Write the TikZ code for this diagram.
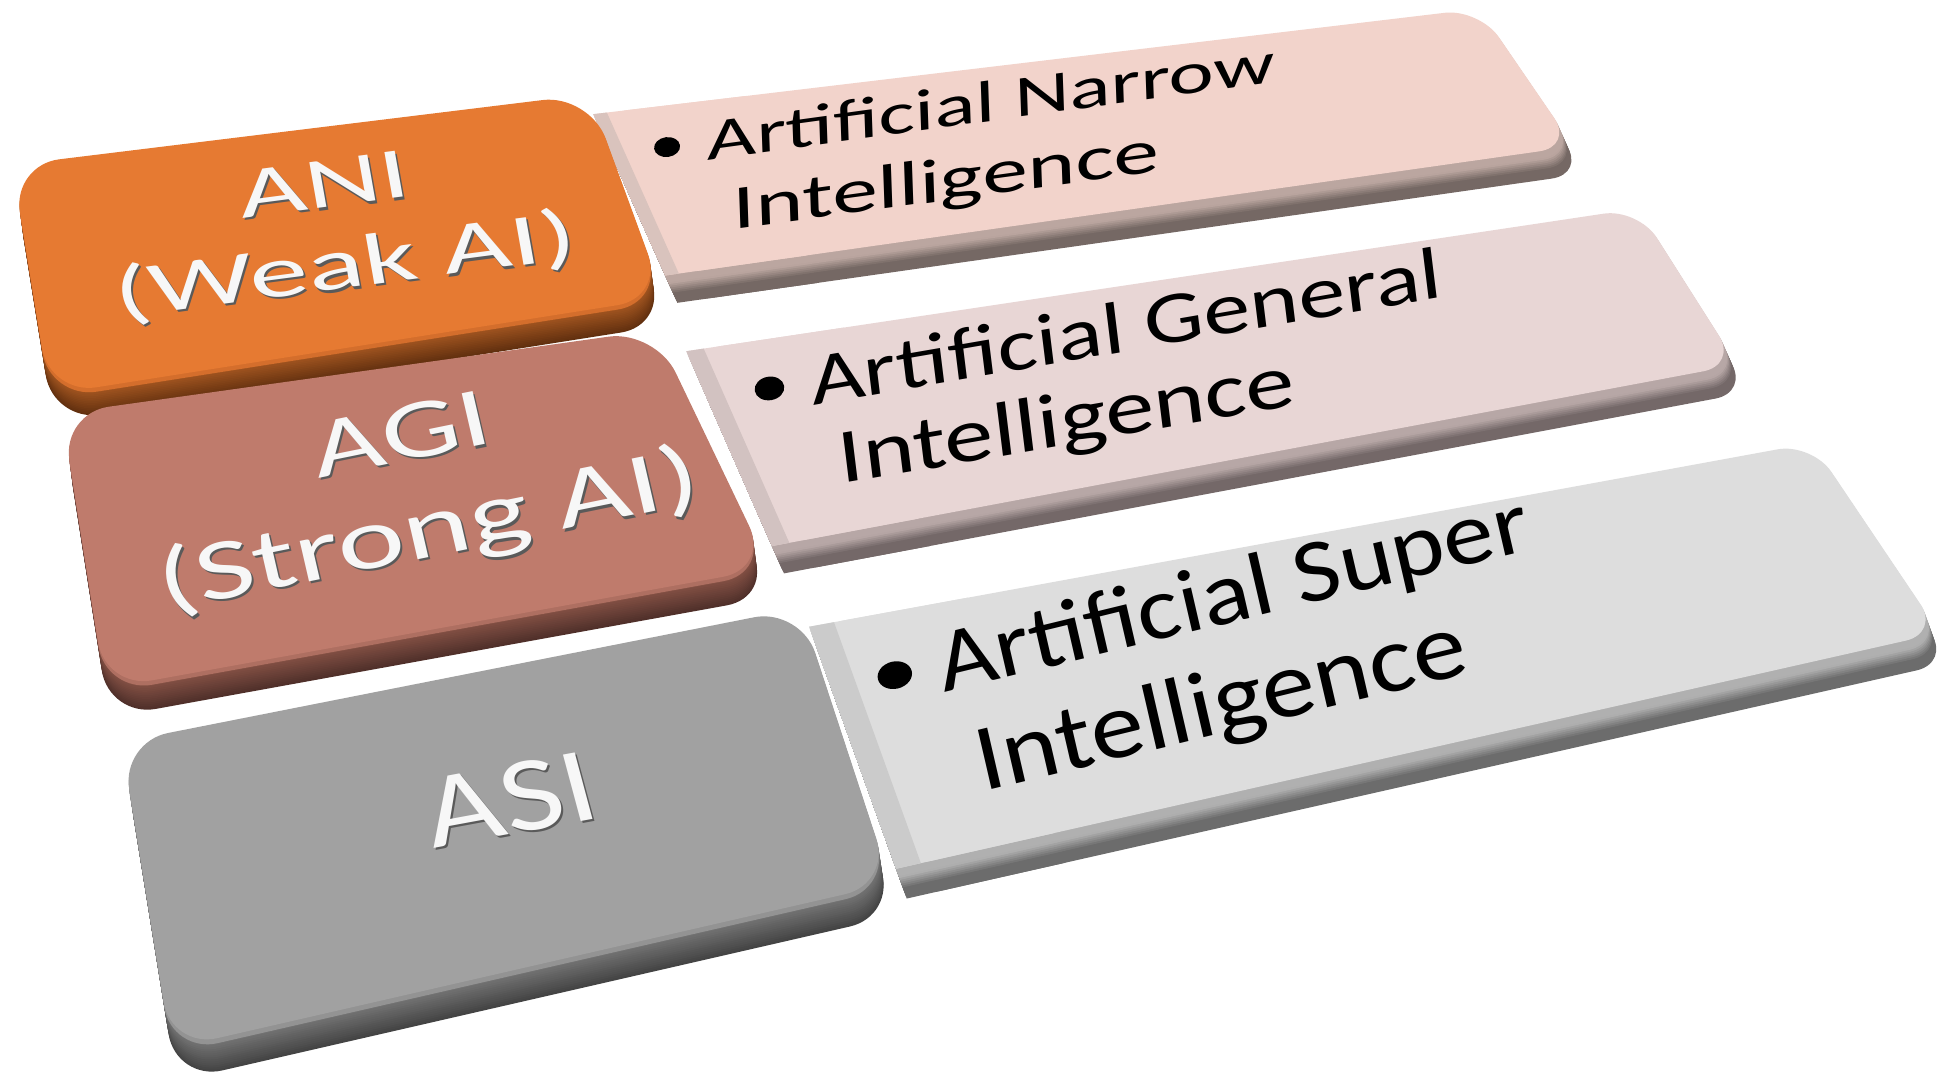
\documentclass[tikz,border=0pt]{standalone}
\usepackage{fontspec}
\setmainfont{Carlito}
\definecolor{anitop}{HTML}{E67A32}
\definecolor{anirim}{HTML}{D46E2C}
\definecolor{animid}{HTML}{AC5B23}
\definecolor{anidark}{HTML}{62300F}
\definecolor{agitop}{HTML}{BF7B6C}
\definecolor{agirim}{HTML}{AE6F61}
\definecolor{agimid}{HTML}{8C5649}
\definecolor{agidark}{HTML}{50302A}
\definecolor{asitop}{HTML}{A1A1A1}
\definecolor{asirim}{HTML}{939393}
\definecolor{asimid}{HTML}{7C7C7C}
\definecolor{asidark}{HTML}{444444}
\definecolor{anidtop}{HTML}{F2D3CB}
\definecolor{anidbev}{HTML}{BBA6A0}
\definecolor{aniddark}{HTML}{756864}
\definecolor{anidstrip}{HTML}{D9C3BD}
\definecolor{agidtop}{HTML}{E8D6D5}
\definecolor{agidbev}{HTML}{B7A7A6}
\definecolor{agiddark}{HTML}{746868}
\definecolor{agidstrip}{HTML}{D2C2C1}
\definecolor{asidtop}{HTML}{DDDDDD}
\definecolor{asidbev}{HTML}{B0B0B0}
\definecolor{asiddark}{HTML}{6C6C6C}
\definecolor{asidstrip}{HTML}{CBCBCB}
\definecolor{txtwhite}{HTML}{F7F7F7}
\definecolor{shadowgray}{HTML}{5A5A5A}
% box label with shadow: name, x, y, transform style, size, text
\newcommand\boxlabel[6]{%
  \node[shtxt,#4,font=\fontsize{#5}{#5}\selectfont] (#1s) at ({#2+1.6},{#3+1.9}) {#6};
  \node[boxtxt,#4,font=\fontsize{#5}{#5}\selectfont] (#1) at (#2,#3) {#6};}
\newcommand\desclabel[6]{%
  \node[desctxt,#4,font=\fontsize{#5}{#5}\selectfont] (#1) at (#2,#3) {#6};}
% smooth extruded side: dx, dy, light colour, dark colour, mode (0 linear, 1 bevel), fill commands using \sidecol
\newcommand\slabside[6]{%
  \foreach \i in {16,15,...,1}{%
    \pgfmathsetmacro\f{\i/16}%
    \ifnum#5=0
      \pgfmathsetmacro\p{100*\f}%
    \else
      \pgfmathsetmacro\p{max(0,min(100,(\f-0.3)*260))}%
    \fi
    \edef\sidecol{#4!\p!#3}%
    \begin{scope}[shift={(\f*#1,\f*#2)}]#6\end{scope}}}
\begin{document}
\begin{tikzpicture}[x=1pt,y=-1pt,
  boxtxt/.style={text=txtwhite,inner sep=0pt,anchor=base},
  shtxt/.style={text=shadowgray,inner sep=0pt,anchor=base},
  desctxt/.style={text=black,inner sep=0pt,anchor=base west},
  tfani/.style={cm={0.9914,0.1305,-0.1076,0.6106,(0,0)}},
  tfagi/.style={cm={0.9799,0.1994,-0.1530,0.6626,(0,0)}},
  tfasi/.style={cm={0.9833,0.1822,-0.2070,0.7727,(0,0)}},
  tfanid/.style={cm={0.9907,0.1357,-0.0237,0.6796,(0,0)}},
  tfagid/.style={cm={0.9854,0.1702,-0.0951,0.7742,(0,0)}},
  tfasid/.style={cm={0.9716,0.2368,-0.1980,0.8575,(0,0)}},
  lbox/.style={rounded corners=38pt},
  dbox/.style={rounded corners=28pt}]
\useasboundingbox (0,0) rectangle (1568,877);
\fill[white] (0,0) rectangle (1568,877);

% ---------- paths ----------
\def\ANIb{(10,133) -- (475,76) -- (535,240) -- (40,318) -- cycle}
\def\ANId{(478,92) -- (1192,7) -- (1268,118) -- (536,222) -- cycle}
\def\ANIdL{(478,92) -- (600,77.48) -- (650,205.8) -- (536,222) -- cycle}
\def\ANIdS{(478,92) -- (489,90.7) -- (547,220.44) -- (536,222) -- cycle}

\def\AGIb{(50,333) -- (528,266) -- (620,458) -- (85,555) -- cycle}
\def\AGId{(553,283) -- (1320,168) -- (1400,294) -- (622,440) -- cycle}
\def\AGIdL{(553,283) -- (680,263.96) -- (740,417.86) -- (622,440) -- cycle}
\def\AGIdS{(553,283) -- (567,280.9) -- (636,437.37) -- (622,440) -- cycle}

\def\ASIb{(98,598) -- (645,490) -- (718,712) -- (138,845) -- cycle}
\def\ASId{(652,505) -- (1460,357) -- (1563,510) -- (722,700) -- cycle}
\def\ASIdL{(652,505) -- (780,481.55) -- (850,671.08) -- (722,700) -- cycle}
\def\ASIdS{(652,505) -- (672,501.34) -- (742,695.48) -- (722,700) -- cycle}

% ---------- ANI description ----------
\slabside{9.8}{22}{anidbev}{aniddark}{1}{\fill[\sidecol,dbox] \ANId; \fill[\sidecol] \ANIdL;}
\fill[anidtop,dbox] \ANId; \fill[anidtop] \ANIdL; \fill[anidstrip] \ANIdS;
% ---------- ANI box ----------
\slabside{3}{22}{animid}{anidark}{0}{\fill[\sidecol,lbox] \ANIb;}
\begin{scope}[shift={(0.3,3.5)}]\fill[anirim,lbox] \ANIb;\end{scope}
\fill[anitop,lbox] \ANIb;

% ---------- AGI description ----------
\slabside{9.7}{22}{agidbev}{agiddark}{1}{\fill[\sidecol,dbox] \AGId; \fill[\sidecol] \AGIdL;}
\fill[agidtop,dbox] \AGId; \fill[agidtop] \AGIdL; \fill[agidstrip] \AGIdS;
% ---------- AGI box ----------
\slabside{3}{23}{agimid}{agidark}{0}{\fill[\sidecol,lbox] \AGIb;}
\begin{scope}[shift={(0.3,3.5)}]\fill[agirim,lbox] \AGIb;\end{scope}
\fill[agitop,lbox] \AGIb;

% ---------- ASI description ----------
\slabside{8.6}{24}{asidbev}{asiddark}{1}{\fill[\sidecol,dbox] \ASId; \fill[\sidecol] \ASIdL;}
\fill[asidtop,dbox] \ASId; \fill[asidtop] \ASIdL; \fill[asidstrip] \ASIdS;
% ---------- ASI box ----------
\slabside{4}{26}{asimid}{asidark}{0}{\fill[\sidecol,lbox] \ASIb;}
\begin{scope}[shift={(0.4,4)}]\fill[asirim,lbox] \ASIb;\end{scope}
\fill[asitop,lbox] \ASIb;

% ---------- labels on the boxes ----------
\boxlabel{ani}{264}{167}{tfani}{94}{ANI}
\boxlabel{weak}{281}{232}{tfani}{95}{(Weak AI)}
\boxlabel{agi}{328}{371}{tfagi}{100}{AGI}
\boxlabel{strong}{350}{448}{tfagi}{103}{(Strong AI)}
\boxlabel{asi}{418}{671}{tfasi}{108}{ASI}

% ---------- descriptions ----------
\fill[rotate around={7.8:(537.5,118.5)}] (537.5,118.5) ellipse (10.5 and 8);
\desclabel{aniA}{570}{129}{tfanid}{69.5}{Artificial Narrow}
\desclabel{aniB}{591}{185}{tfanid}{74}{Intelligence}

\fill[rotate around={9.8:(620,313)}] (620,313) ellipse (12 and 9.5);
\desclabel{agiA}{655}{327}{tfagid}{76}{Artificial General}
\desclabel{agiB}{678}{390}{tfagid}{79.5}{Intelligence}

\fill[rotate around={13.7:(721,544)}] (721,544) ellipse (14 and 11);
\desclabel{asiA}{761}{558}{tfasid}{82}{Artificial Super}
\desclabel{asiB}{792}{638}{tfasid}{86.5}{Intelligence}
\end{tikzpicture}
\end{document}
